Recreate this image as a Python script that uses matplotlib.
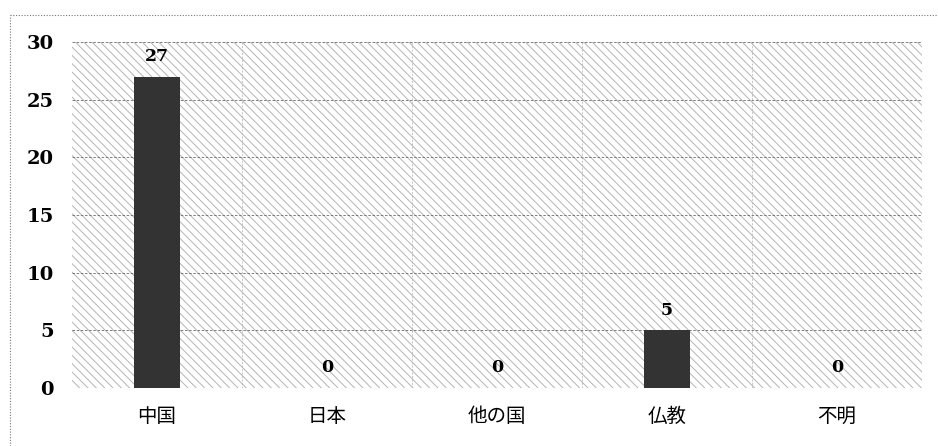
import numpy as np
import matplotlib.pyplot as plt
from matplotlib.patches import Rectangle
from matplotlib.lines import Line2D

# Data
categories = ["中国", "日本", "他の国", "仏教", "不明"]
counts = [27, 0, 0, 5, 0]
y_ticks = [0, 5, 10, 15, 20, 25, 30]

plt.rcParams['hatch.linewidth'] = 0.7

fig = plt.figure(figsize=(9.38, 4.46), dpi=100)
ax = fig.add_axes([72 / 938, 1 - 388 / 446, 850 / 938, 346 / 446])

# hatched plot area
bg = Rectangle((0, 0), 1, 1, transform=ax.transAxes, facecolor="white",
               edgecolor="#b4b4b4", hatch="\\\\\\\\", linewidth=0, zorder=0)
ax.add_patch(bg)

x = np.arange(len(categories))
bars = ax.bar(x, counts, width=0.27, color="#333333", zorder=3)

for xi, v in zip(x, counts):
    ax.text(xi, v + 1.0, str(v), ha="center", va="bottom",
            family="DejaVu Serif", fontweight="bold", fontsize=12.5, zorder=4)

ax.set_xlim(-0.5, len(categories) - 0.5)
ax.set_ylim(0, 30)
ax.set_yticks(y_ticks)
ax.set_yticklabels([str(t) for t in y_ticks], family="DejaVu Serif",
                   fontweight="bold", fontsize=14)
ax.set_xticks(x)
ax.set_xticklabels(categories, family=["Noto Sans CJK JP", "DejaVu Sans"],
                   fontsize=14)
ax.tick_params(axis="both", length=0)
ax.tick_params(axis="y", pad=13)
ax.tick_params(axis="x", pad=13)

# grid lines
for t in y_ticks:
    ax.axhline(t, color="#6a6a6a", linestyle=(0, (3, 2)), linewidth=0.6, zorder=1)
for b in np.arange(0.5, len(categories) - 0.5, 1.0):
    ax.axvline(b, color="#b0b0b0", linestyle=(0, (3, 2)), linewidth=0.5, zorder=1)

for s in ax.spines.values():
    s.set_visible(False)

# dotted figure border
fig.add_artist(Line2D([10 / 938, 1], [1 - 15 / 446] * 2, transform=fig.transFigure,
                      color="#777777", linestyle=(0, (1, 1.5)), linewidth=0.8))
fig.add_artist(Line2D([10 / 938] * 2, [0, 1 - 15 / 446], transform=fig.transFigure,
                      color="#777777", linestyle=(0, (1, 1.5)), linewidth=0.8))

fig.savefig("out.png", dpi=100)
